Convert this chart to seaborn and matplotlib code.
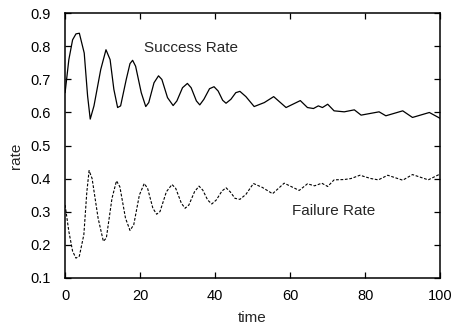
import pandas as pd
import matplotlib
matplotlib.use("Agg")
import matplotlib.pyplot as plt
import seaborn as sns

# values
success_time = [0, 1.0, 2.0, 2.9, 3.8, 5.1, 6.0, 6.7, 7.7, 9.5, 10.9, 12.0, 13.0, 14.0,
                14.8, 16.3, 17.3, 18.0, 18.8, 20.3, 21.5, 22.3, 23.7, 24.9, 25.8, 27.3,
                28.8, 29.8, 31.3, 32.6, 33.6, 35.0, 35.9, 37.0, 38.5, 39.7, 40.8, 42.0,
                42.9, 44.2, 45.5, 46.6, 48.2, 50.4, 53.1, 55.6, 58.9, 62.7, 64.6, 66.2,
                67.5, 68.6, 70.0, 71.7, 74.4, 77.1, 78.9, 83.7, 85.5, 90.0, 92.6, 97.1, 100]
success_rate = [0.66, 0.76, 0.82, 0.838, 0.84, 0.78, 0.65, 0.58, 0.62, 0.73, 0.79, 0.76,
                0.67, 0.615, 0.62, 0.70, 0.748, 0.758, 0.74, 0.66, 0.618, 0.63, 0.69,
                0.711, 0.70, 0.645, 0.621, 0.635, 0.675, 0.688, 0.675, 0.635, 0.623,
                0.64, 0.672, 0.678, 0.665, 0.637, 0.628, 0.64, 0.66, 0.664, 0.648,
                0.618, 0.63, 0.648, 0.615, 0.636, 0.615, 0.612, 0.62, 0.615, 0.625,
                0.605, 0.602, 0.608, 0.592, 0.602, 0.59, 0.605, 0.585, 0.60, 0.582]

failure_time = [0, 1.0, 2.0, 2.9, 3.8, 5.0, 5.8, 6.4, 7.2, 8.8, 10.2, 11.0, 12.5, 13.7,
                14.6, 16.1, 17.3, 18.3, 19.8, 21.1, 22.0, 23.4, 24.4, 25.3, 27.0, 28.5,
                29.5, 31.0, 32.0, 33.0, 34.5, 35.7, 36.7, 38.0, 39.1, 40.3, 41.8, 42.9,
                44.0, 45.3, 46.6, 48.2, 50.2, 52.6, 55.3, 58.4, 62.4, 64.6, 66.5, 67.5,
                68.4, 70.0, 71.7, 74.4, 76.2, 78.6, 81.5, 83.5, 86.0, 90.0, 92.6, 96.8,
                99.3, 100]
failure_rate = [0.32, 0.24, 0.18, 0.159, 0.165, 0.23, 0.36, 0.424, 0.40, 0.28, 0.21,
                0.22, 0.34, 0.393, 0.375, 0.28, 0.243, 0.26, 0.35, 0.385, 0.37, 0.31,
                0.292, 0.30, 0.36, 0.382, 0.37, 0.325, 0.31, 0.32, 0.36, 0.377, 0.365,
                0.335, 0.323, 0.335, 0.362, 0.372, 0.36, 0.34, 0.337, 0.352, 0.385,
                0.373, 0.354, 0.386, 0.364, 0.384, 0.378, 0.382, 0.386, 0.376, 0.396,
                0.397, 0.40, 0.41, 0.40, 0.396, 0.41, 0.395, 0.412, 0.396, 0.41, 0.414]

x_ticks = [0, 20, 40, 60, 80, 100]
y_ticks = [0.1, 0.2, 0.3, 0.4, 0.5, 0.6, 0.7, 0.8, 0.9]

success = pd.DataFrame({"time": success_time, "rate": success_rate})
failure = pd.DataFrame({"time": failure_time, "rate": failure_rate})

sns.set_style("ticks")
plt.rcParams["font.family"] = ["Liberation Sans", "DejaVu Sans"]

fig = plt.figure(figsize=(4.52, 3.27), dpi=100)
ax = fig.add_axes([0.144, 0.151, 0.830, 0.808])

sns.lineplot(data=success, x="time", y="rate", ax=ax, color="black", linewidth=0.9)
sns.lineplot(data=failure, x="time", y="rate", ax=ax, color="black", linewidth=0.8,
             linestyle=(0, (2.5, 1.5)))

ax.set_xlim(0, 100)
ax.set_ylim(0.1, 0.9)
ax.set_xticks(x_ticks)
ax.set_yticks(y_ticks)
ax.set_yticklabels([f"{v:.1f}" for v in y_ticks])
ax.tick_params(direction="in", top=True, right=True, length=4, width=0.9,
               labelsize=10.5, colors="black")
ax.tick_params(axis="y", pad=10)
ax.tick_params(axis="x", pad=8)
for s in ax.spines.values():
    s.set_linewidth(1.1)
    s.set_color("black")

ax.set_xlabel("time", fontsize=11)
ax.set_ylabel("rate", fontsize=11)
ax.xaxis.set_label_coords(0.5, -0.125)
ax.yaxis.set_label_coords(-0.112, 0.46)

ax.text(21, 0.795, "Success Rate", fontsize=11, va="center")
ax.text(60.5, 0.303, "Failure Rate", fontsize=11, va="center")

fig.savefig("out.png", dpi=100)
